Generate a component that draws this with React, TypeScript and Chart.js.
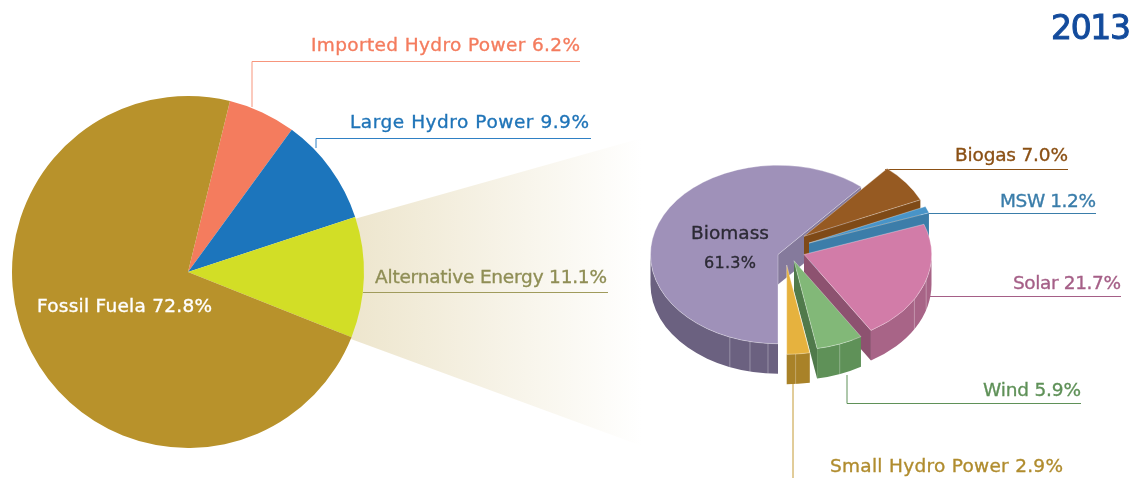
import React, { useEffect, useRef } from "react";
import { Chart, registerables, PieController } from "chart.js";

const W = 1133;
const H = 478;

// ---- data ----
const mainCategories = ["Imported Hydro Power", "Large Hydro Power", "Alternative Energy", "Fossil Fuela"];
const mainValues = [6.2, 9.9, 11.1, 72.8];
const mainColors = ["#F47C5E", "#1C75BC", "#D2DE26", "#B8922B"];

const altCategories = ["Biomass", "Biogas", "MSW", "Solar", "Wind", "Small Hydro Power"];
const altValues = [61.3, 7.0, 1.2, 21.7, 5.9, 2.9];
const altTop = ["#9F91B9", "#965A22", "#4894C8", "#D27CA8", "#82B878", "#E6B23E"];
const altWall = ["#6B6180", "#7F4A17", "#3C7DA9", "#A86487", "#5F9158", "#A98228"];
const altFace = ["#857A9C", "#7F4A17", "#3C7DA9", "#8D5270", "#507A4B", "#A98228"];

const yearLabel = "2013";

// ---- layout ----
const MAIN_CX = 188, MAIN_CY = 272, MAIN_R = 176, MAIN_ROTATION = 13.8;
const ALT_CX = 778, ALT_CY = 254.5, ALT_R = 127.5, SQUASH = 0.7, DEPTH = 30;
const altShift = [[0, 0], [26, -26], [31, -16.4], [26, 0], [16, 8.9], [8.7, 15]];
const wallSeams = [[202.2, 192.7, 184.5], [], [], [120, 106.6], [159], [176]];

type Lab = { text: string; x0: number; x1: number; y: number; color: string; size?: number; weight?: number };
const pct = (v: number) => v.toFixed(1) + "%";
const labels: Lab[] = [
  { text: `${mainCategories[0]} ${pct(mainValues[0])}`, x0: 311, x1: 580, y: 46, color: "#F47C5E" },
  { text: `${mainCategories[1]} ${pct(mainValues[1])}`, x0: 350, x1: 589, y: 123, color: "#1F74B8" },
  { text: `${mainCategories[2]} ${pct(mainValues[2])}`, x0: 375, x1: 607, y: 278, color: "#8F8E55" },
  { text: `${mainCategories[3]} ${pct(mainValues[3])}`, x0: 37, x1: 212, y: 307, color: "#FFFFFF" },
  { text: `${altCategories[1]} ${pct(altValues[1])}`, x0: 955, x1: 1068, y: 156, color: "#8B5014" },
  { text: `${altCategories[2]} ${pct(altValues[2])}`, x0: 1000, x1: 1096, y: 202, color: "#3A7DAA" },
  { text: `${altCategories[3]} ${pct(altValues[3])}`, x0: 1013, x1: 1121, y: 284, color: "#A55F87" },
  { text: `${altCategories[4]} ${pct(altValues[4])}`, x0: 983, x1: 1081, y: 391, color: "#5F9158" },
  { text: `${altCategories[5]} ${pct(altValues[5])}`, x0: 830, x1: 1063, y: 467, color: "#B08C2E" },
  { text: yearLabel, x0: 1051, x1: 1131, y: 30, color: "#134B9C", size: 33, weight: 1 },
];
const innerLabels: Lab[] = [
  { text: altCategories[0], x0: 691, x1: 769, y: 234, color: "#2C2A35" },
  { text: pct(altValues[0]), x0: 704, x1: 756, y: 264, color: "#2C2A35", size: 16 },
];
const leaders: { pts: number[][]; color: string }[] = [
  { pts: [[252, 107], [252, 61.5], [580, 61.5]], color: "#F7957C" },
  { pts: [[316, 148], [316, 138.5], [591, 138.5]], color: "#2F80C4" },
  { pts: [[363, 292.5], [608, 292.5]], color: "#A09B5C" },
  { pts: [[885, 169.5], [1068, 169.5]], color: "#8B5014" },
  { pts: [[928, 213.5], [1096, 213.5]], color: "#3A7DAA" },
  { pts: [[930, 296.5], [1121, 296.5]], color: "#A55F87" },
  { pts: [[847, 375], [847, 403.5], [1081, 403.5]], color: "#5F9158" },
  { pts: [[793, 383], [793, 478]], color: "#C49A35" },
];

function drawLabel(ctx: CanvasRenderingContext2D, l: Lab) {
  ctx.save();
  ctx.font = `${l.size ?? 18.5}px "DejaVu Sans"`;
  ctx.fillStyle = l.color;
  ctx.strokeStyle = l.color;
  ctx.lineWidth = l.weight ?? 0.35;
  ctx.textBaseline = "middle";
  ctx.textAlign = "left";
  (ctx as any).letterSpacing = "0px";
  const w = ctx.measureText(l.text).width;
  const sp = (l.x1 - l.x0 - w) / Math.max(1, l.text.length - 1);
  (ctx as any).letterSpacing = `${sp}px`;
  ctx.fillText(l.text, l.x0, l.y);
  ctx.strokeText(l.text, l.x0, l.y);
  ctx.restore();
}

const wedgePlugin = {
  id: "wedge",
  beforeDatasetsDraw(chart: any) {
    const ctx = chart.ctx;
    ctx.save();
    const g = ctx.createLinearGradient(345, 0, 642, 0);
    g.addColorStop(0, "#EDE5CC");
    g.addColorStop(1, "rgba(255,255,255,1)");
    ctx.fillStyle = g;
    ctx.beginPath();
    ctx.moveTo(340, 223);
    ctx.lineTo(642, 138);
    ctx.lineTo(642, 446);
    ctx.lineTo(340, 335);
    ctx.closePath();
    ctx.fill();
    ctx.restore();
  },
  afterDatasetsDraw(chart: any) {
    const ctx = chart.ctx;
    ctx.save();
    ctx.lineWidth = 1;
    for (const seg of leaders) {
      ctx.strokeStyle = seg.color;
      ctx.beginPath();
      seg.pts.forEach((p, i) => (i ? ctx.lineTo(p[0], p[1]) : ctx.moveTo(p[0], p[1])));
      ctx.stroke();
    }
    ctx.restore();
    labels.forEach((l) => drawLabel(ctx, l));
  },
};

class Pie3DController extends (PieController as any) {
  static id = "pie3d";
  draw() {
    const self = this as any;
    const ctx = self.chart.ctx as CanvasRenderingContext2D;
    const ds = self.getDataset();
    const arcs = self.getMeta().data;
    arcs.forEach((arc: any, i: number) => {
      const [sx, sy] = ds.shift[i];
      const cx = arc.x + sx;
      const cy = arc.y + sy * SQUASH;
      const r = arc.outerRadius;
      const px = (t: number) => cx + r * Math.cos(t);
      const py = (t: number) => cy + r * SQUASH * Math.sin(t);
      const a0 = arc.startAngle, a1 = arc.endAngle;

      // cut face at the end of the slice, then at its start
      const face = (t: number) => {
        ctx.fillStyle = ds.faceColor[i];
        ctx.beginPath();
        ctx.moveTo(cx, cy);
        ctx.lineTo(px(t), py(t));
        ctx.lineTo(px(t), py(t) + DEPTH);
        ctx.lineTo(cx, cy + DEPTH);
        ctx.closePath();
        ctx.fill();
      };
      if (Math.cos(a1) > 0) face(a1);
      if (-Math.cos(a0) > 0) face(a0);

      // outer wall: only what faces the viewer
      for (const k of [0, 1]) {
        const lo = Math.max(a0, 2 * Math.PI * k);
        const hi = Math.min(a1, Math.PI + 2 * Math.PI * k);
        if (hi <= lo) continue;
        ctx.fillStyle = ds.wallColor[i];
        ctx.beginPath();
        ctx.ellipse(cx, cy, r, r * SQUASH, 0, lo, hi);
        ctx.ellipse(cx, cy + DEPTH, r, r * SQUASH, 0, hi, lo, true);
        ctx.closePath();
        ctx.fill();
      }

      // seams on the wall
      ctx.strokeStyle = "rgba(255,255,255,0.3)";
      ctx.lineWidth = 1;
      for (const deg of ds.seams[i]) {
        const t = (deg * Math.PI) / 180 - Math.PI / 2;
        ctx.beginPath();
        ctx.moveTo(px(t), py(t));
        ctx.lineTo(px(t), py(t) + DEPTH);
        ctx.stroke();
      }

      // the top of the slice, squashed around the pie's centre
      ctx.save();
      ctx.translate(cx, cy);
      ctx.scale(1, SQUASH);
      ctx.translate(-arc.x, -arc.y);
      arc.draw(ctx);
      ctx.restore();
    });
  }
}

const innerTextPlugin = {
  id: "innerText",
  afterDatasetsDraw(chart: any) {
    innerLabels.forEach((l) => drawLabel(chart.ctx, l));
  },
};

export default function App() {
  const mainRef = useRef<HTMLCanvasElement>(null);
  const altRef = useRef<HTMLCanvasElement>(null);

  useEffect(() => {
    Chart.register(...registerables, Pie3DController as any);
    const main = new Chart(mainRef.current!, {
      type: "pie",
      data: {
        labels: mainCategories,
        datasets: [{ data: mainValues, backgroundColor: mainColors, borderWidth: 0, radius: MAIN_R } as any],
      },
      options: {
        responsive: false,
        animation: false,
        events: [],
        rotation: MAIN_ROTATION,
        layout: { padding: { left: 0, right: W - 2 * MAIN_CX, top: 2 * MAIN_CY - H, bottom: 0 } },
        plugins: { legend: { display: false }, tooltip: { enabled: false } },
      },
      plugins: [wedgePlugin],
    } as any);
    const alt = new Chart(altRef.current!, {
      type: "pie3d" as any,
      data: {
        labels: altCategories,
        datasets: [
          {
            data: altValues,
            backgroundColor: altTop,
            borderColor: "rgba(255,255,255,0.55)",
            borderWidth: 0.7,
            radius: ALT_R,
            wallColor: altWall,
            faceColor: altFace,
            shift: altShift,
            seams: wallSeams,
          } as any,
        ],
      },
      options: {
        responsive: false,
        animation: false,
        events: [],
        rotation: 180,
        layout: { padding: { left: 2 * ALT_CX - W, right: 0, top: 2 * ALT_CY - H, bottom: 0 } },
        plugins: { legend: { display: false }, tooltip: { enabled: false } },
      },
      plugins: [innerTextPlugin],
    } as any);
    return () => {
      main.destroy();
      alt.destroy();
    };
  }, []);

  const style: React.CSSProperties = { position: "absolute", left: 0, top: 0, width: W, height: H };
  return (
    <div style={{ position: "fixed", left: 0, top: 0, width: W, height: H, background: "#FFFFFF" }}>
      <canvas ref={mainRef} width={W} height={H} style={style} />
      <canvas ref={altRef} width={W} height={H} style={style} />
    </div>
  );
}
